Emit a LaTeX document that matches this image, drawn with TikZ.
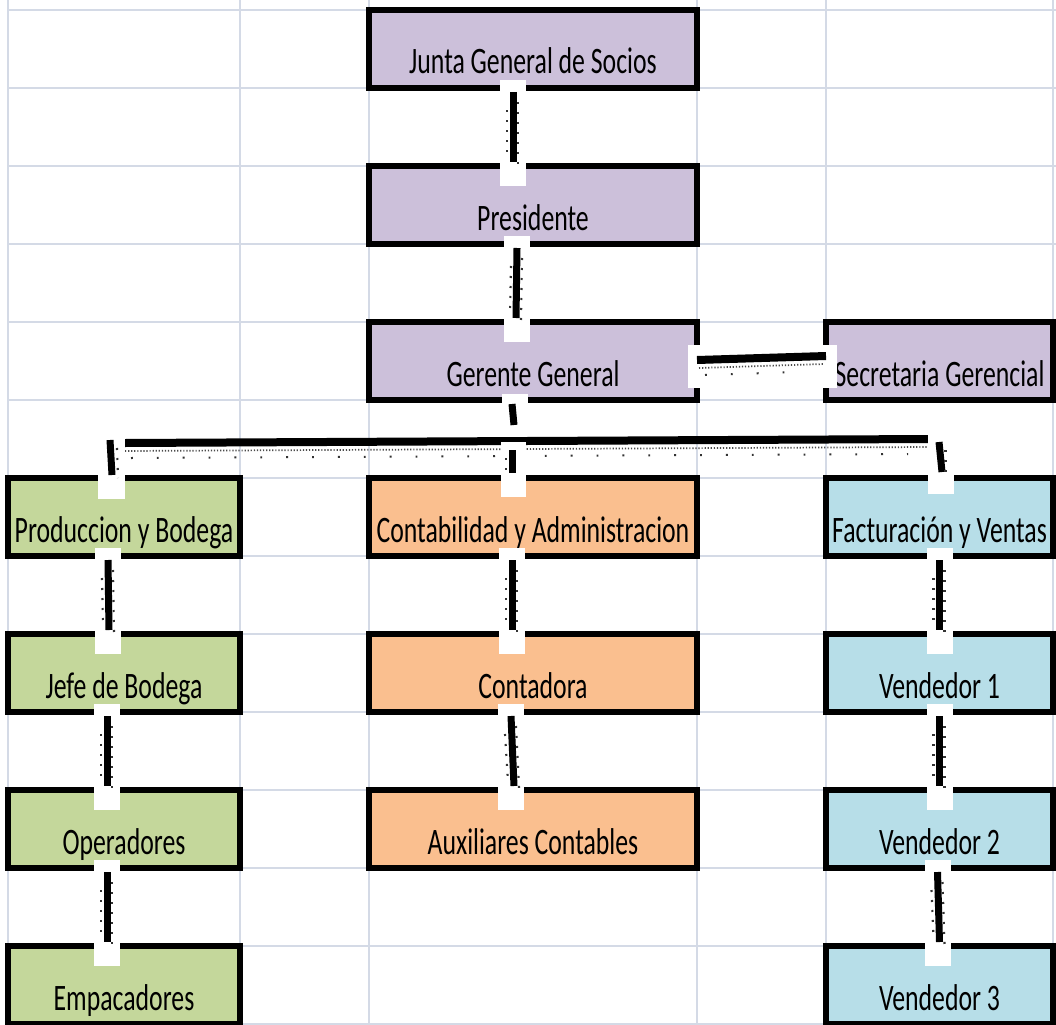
\documentclass[tikz,border=0pt]{standalone}
\usepackage{fontspec}
\setmainfont{Carlito}[FakeStretch=0.69]
\usetikzlibrary{calc}

\definecolor{gridc}{HTML}{D4DAE6}
\definecolor{purp}{HTML}{CCC0DA}
\definecolor{greenc}{HTML}{C4D79B}
\definecolor{orangec}{HTML}{FABF8F}
\definecolor{bluec}{HTML}{B7DEE8}

% vertical link: upper node, lower node, x offset at top, x offset at bottom
\newcommand\vlink[4]{%
  \fill[white] ($(#1.south)+(#3-13,-8)$) rectangle ($(#2.north)+(#3+13,20)$);
  \draw[wire] ($(#1.south)+(#3,4)$) -- ($(#2.north)+(#4,-4)$);
  \draw[specks] ($(#1.south)+(#3+5,14)$) -- ($(#2.north)+(#4+5,-2)$);
  \draw[specks] ($(#1.south)+(#3-6,22)$) -- ($(#2.north)+(#4-6,-8)$);
}

\begin{document}
\begin{tikzpicture}[x=0.75pt,y=-0.75pt,
  gridline/.style={draw=gridc, line width=1.9pt},
  cell/.style={draw=black, line width=4.2pt, inner sep=0pt, outer sep=0pt,
    minimum height=58.5pt, text height=48pt, text depth=10.5pt,
    font=\fontsize{28}{30}\selectfont, anchor=north west},
  colL/.style={minimum width=174pt},
  colC/.style={minimum width=246pt},
  colR/.style={minimum width=170.25pt},
  wire/.style={draw=black, line width=5.25pt},
  busline/.style={draw=black, line width=6pt},
  specks/.style={draw=black!80, line width=1.6pt, dash pattern=on 1.5pt off 6pt},
  finespecks/.style={draw=black!70, line width=1.3pt, dash pattern=on 0.9pt off 1.4pt},
  sparsespecks/.style={draw=black!80, line width=1.5pt, dash pattern=on 1.4pt off 18pt}]

\useasboundingbox (0,0) rectangle (1056,1024);
\fill[white] (0,0) rectangle (1056,1024);

% spreadsheet grid
\foreach \x in {8,240,369,697,826,1053}
  \draw[gridline] (\x,0) -- (\x,1024);
\foreach \k in {0,...,13}
  \draw[gridline] (8,10+78*\k) -- (1056,10+78*\k);

% boxes
\node[cell,colC,fill=purp] (junta) at (369,10) {Junta General de Socios};
\node[cell,colC,fill=purp] (pres) at (369,166) {Presidente};
\node[cell,colC,fill=purp] (gerente) at (369,322) {Gerente General};
\node[cell,colR,fill=purp] (secre) at (826,322) {Secretaria Gerencial};
\node[cell,colL,fill=greenc] (prod) at (8,478) {Produccion y Bodega};
\node[cell,colC,fill=orangec] (contab) at (369,478) {Contabilidad y Administracion};
\node[cell,colR,fill=bluec] (fact) at (826,478) {Facturación y Ventas};
\node[cell,colL,fill=greenc] (jefe) at (8,634) {Jefe de Bodega};
\node[cell,colC,fill=orangec] (conta) at (369,634) {Contadora};
\node[cell,colR,fill=bluec] (vend1) at (826,634) {Vendedor 1};
\node[cell,colL,fill=greenc] (oper) at (8,790) {Operadores};
\node[cell,colC,fill=orangec] (aux) at (369,790) {Auxiliares Contables};
\node[cell,colR,fill=bluec] (vend2) at (826,790) {Vendedor 2};
\node[cell,colL,fill=greenc] (emp) at (8,946) {Empacadores};
\node[cell,colR,fill=bluec] (vend3) at (826,946) {Vendedor 3};

% vertical links
\vlink{junta}{pres}{-20}{-20}
\vlink{pres}{gerente}{-16}{-17}
\vlink{contab}{conta}{-21}{-21}
\vlink{conta}{aux}{-22}{-19}
\vlink{prod}{jefe}{-16}{-15}
\vlink{jefe}{oper}{-17}{-17}
\vlink{oper}{emp}{-17}{-17}
\vlink{fact}{vend1}{0}{0}
\vlink{vend1}{vend2}{0}{0}
\vlink{vend2}{vend3}{-2}{0}

% Gerente General -- Secretaria Gerencial
\fill[white] ($(gerente.east)+(-9,-16)$) rectangle ($(secre.west)+(11,27)$);
\draw[busline] ($(gerente.east)+(0,-1)$) -- ($(secre.west)+(0,-5)$);
\draw[finespecks] ($(gerente.east)+(2,7)$) -- ($(secre.west)+(-2,3)$);
\draw[sparsespecks] ($(gerente.east)+(8,14)$) -- ($(secre.west)+(-30,11)$);

% branch bar under Gerente General
\coordinate (busL) at ($(prod.north)+(1,-35)$);
\coordinate (busR) at ($(fact.north)+(-11.5,-39)$);
\draw[busline] (busL) -- (busR);
\draw[finespecks] ($(busL)+(0,8)$) -- ($(busR)+(0,8)$);
\draw[sparsespecks] ($(busL)+(6,15)$) -- ($(busR)+(-20,15)$);

% stub from Gerente General
\fill[white] ($(gerente.south)+(-31,-6)$) rectangle ($(gerente.south)+(-5,26)$);
\draw[wire] ($(gerente.south)+(-21,4)$) -- ($(gerente.south)+(-19,25)$);

% drops to the three departments
\fill[white] ($(prod.north)+(-26,-49)$) rectangle ($(prod.north)+(1,21)$);
\draw[wire] ($(prod.north)+(-14,-38)$) -- ($(prod.north)+(-12,-3)$);
\draw[specks] ($(prod.north)+(-7,-30)$) -- ($(prod.north)+(-6,0)$);

\fill[white] ($(contab.north)+(-32,-36)$) rectangle ($(contab.north)+(-7,19)$);
\draw[wire] ($(contab.north)+(-21,-28)$) -- ($(contab.north)+(-21,-5)$);
\draw[specks] ($(contab.north)+(-27,-20)$) -- ($(contab.north)+(-27,0)$);

\fill[white] ($(fact.north)+(-11.5,-46)$) rectangle ($(fact.north)+(14.5,16)$);
\draw[wire] ($(fact.north)+(-0.5,-36)$) -- ($(fact.north)+(2.5,-6)$);
\draw[specks] ($(fact.north)+(6,-28)$) -- ($(fact.north)+(6,0)$);

\end{tikzpicture}
\end{document}
